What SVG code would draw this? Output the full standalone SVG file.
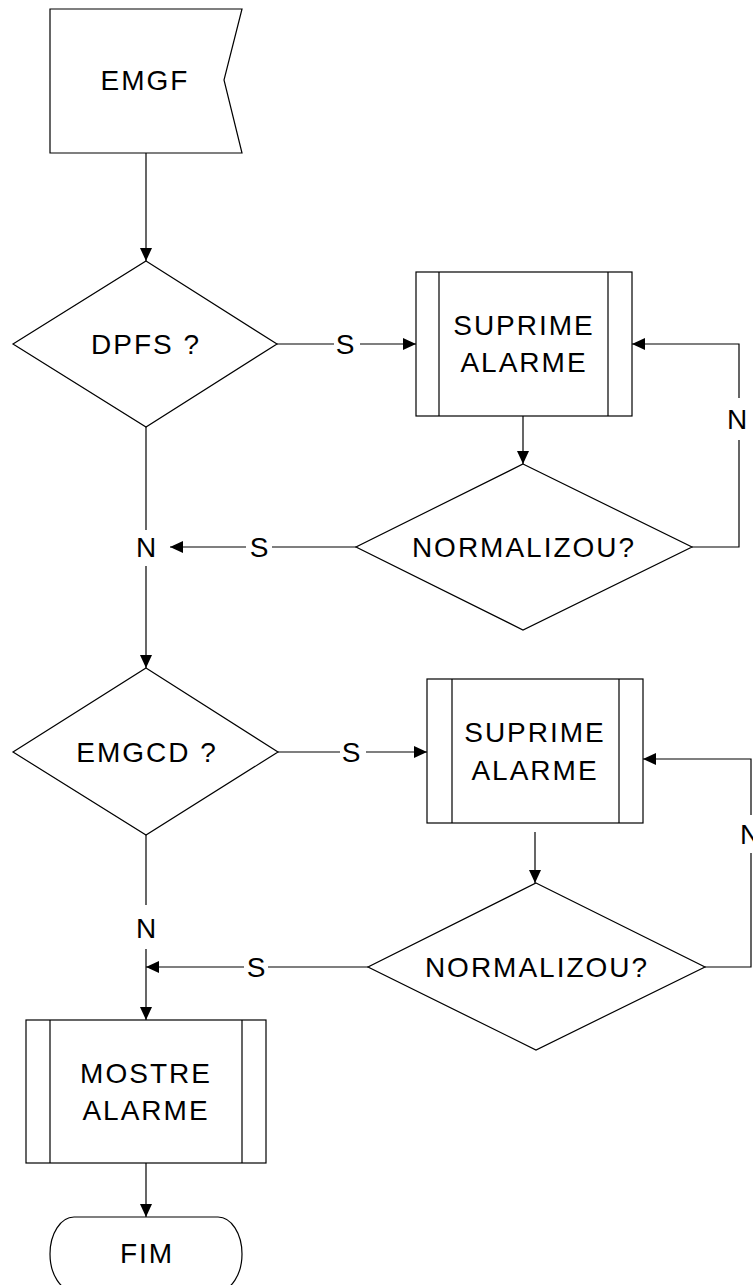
<svg xmlns="http://www.w3.org/2000/svg" width="753" height="1285" viewBox="0 0 753 1285">
  <style>
    .shape { fill: #ffffff; stroke: #000000; stroke-width: 1.2; }
    .line { fill: none; stroke: #000000; stroke-width: 1.2; }
    .txt { font-family: "Liberation Sans", Arial, sans-serif; font-size: 28px; letter-spacing: 2px; fill: #000000; text-anchor: middle; }
    .lbl { font-family: "Liberation Sans", Arial, sans-serif; font-size: 28px; fill: #000000; text-anchor: middle; }
  </style>
  <defs>
    <marker id="arrow" markerUnits="userSpaceOnUse" markerWidth="14" markerHeight="12" refX="13" refY="6" orient="auto">
      <path d="M0,0 L13,6 L0,12 Z" fill="#000000"/>
    </marker>
  </defs>
  <rect width="753" height="1285" fill="#ffffff"/>

  <!-- connectors -->
  <g id="connectors">
    <path class="line" d="M146,153 V261" marker-end="url(#arrow)"/>
    <path class="line" d="M277,344 H334"/>
    <path class="line" d="M360,344 H416" marker-end="url(#arrow)"/>
    <text class="lbl" x="345" y="354">S</text>
    <path class="line" d="M523,416 V464" marker-end="url(#arrow)"/>
    <path class="line" d="M692,547 H739 V440"/>
    <path class="line" d="M739,398 V344 H632" marker-end="url(#arrow)"/>
    <text class="lbl" x="737" y="429">N</text>
    <path class="line" d="M356,547 H272"/>
    <path class="line" d="M246,547 H170" marker-end="url(#arrow)"/>
    <text class="lbl" x="259" y="557">S</text>
    <path class="line" d="M146,427 V530"/>
    <path class="line" d="M146,566 V668" marker-end="url(#arrow)"/>
    <text class="lbl" x="146" y="557">N</text>
    <path class="line" d="M278,752 H340"/>
    <path class="line" d="M366,752 H427" marker-end="url(#arrow)"/>
    <text class="lbl" x="351" y="762">S</text>
    <path class="line" d="M535,832 V883" marker-end="url(#arrow)"/>
    <path class="line" d="M705,967 H751 V853"/>
    <path class="line" d="M751,815 V759 H643" marker-end="url(#arrow)"/>
    <text class="lbl" x="750" y="844">N</text>
    <path class="line" d="M368,967 H268"/>
    <path class="line" d="M244,967 H146" marker-end="url(#arrow)"/>
    <text class="lbl" x="256" y="977">S</text>
    <path class="line" d="M146,835 V905"/>
    <path class="line" d="M146,949 V1020" marker-end="url(#arrow)"/>
    <text class="lbl" x="146" y="938">N</text>
    <path class="line" d="M146,1163 V1217" marker-end="url(#arrow)"/>
  </g>

  <!-- start card -->
  <g id="emgf">
    <path class="shape" d="M50,9 H242 L224,80 L242,153 H50 Z"/>
    <text class="txt" x="145" y="90">EMGF</text>
  </g>

  <g id="dpfs">
    <path class="shape" d="M146,261 L277,344 L146,427 L13,344 Z"/>
    <text class="txt" x="146" y="354">DPFS ?</text>
  </g>

  <g id="suprime1">
    <rect class="shape" x="416" y="272" width="216" height="144"/>
    <path class="line" d="M439,272 V416 M608,272 V416"/>
    <text class="txt" x="524" y="335">SUPRIME</text>
    <text class="txt" x="524" y="372">ALARME</text>
  </g>

  <g id="normalizou1">
    <path class="shape" d="M523,464 L692,547 L523,630 L356,547 Z"/>
    <text class="txt" x="524" y="557">NORMALIZOU?</text>
  </g>

  <g id="emgcd">
    <path class="shape" d="M146,668 L278,752 L146,835 L13,752 Z"/>
    <text class="txt" x="147" y="762">EMGCD ?</text>
  </g>

  <g id="suprime2">
    <rect class="shape" x="427" y="679" width="216" height="144"/>
    <path class="line" d="M452,679 V823 M619,679 V823"/>
    <text class="txt" x="535" y="742">SUPRIME</text>
    <text class="txt" x="535" y="780">ALARME</text>
  </g>

  <g id="normalizou2">
    <path class="shape" d="M536,883 L705,967 L536,1050 L368,967 Z"/>
    <text class="txt" x="537" y="977">NORMALIZOU?</text>
  </g>

  <g id="mostre">
    <rect class="shape" x="26" y="1020" width="240" height="143"/>
    <path class="line" d="M50,1020 V1163 M242,1020 V1163"/>
    <text class="txt" x="146" y="1083">MOSTRE</text>
    <text class="txt" x="146" y="1120">ALARME</text>
  </g>

  <g id="fim">
    <rect class="shape" x="50" y="1217" width="192" height="74" rx="24" ry="37"/>
    <text class="txt" x="147" y="1263">FIM</text>
  </g>
</svg>
